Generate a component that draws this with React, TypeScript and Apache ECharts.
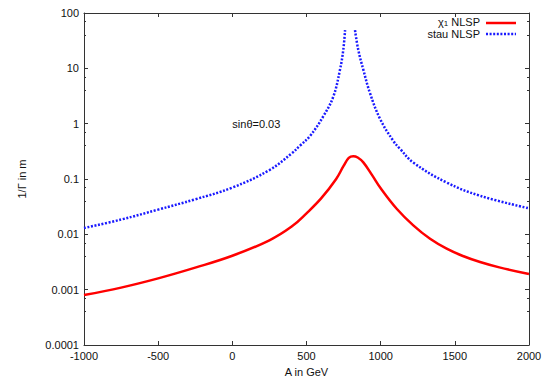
import React, { useEffect, useRef } from "react";
import * as echarts from "echarts";

// X values (A in GeV) and 1/Γ values (m)
const chiA = [-1000, -750, -500, -250, 0, 250, 400, 500, 600, 700, 750, 785, 815, 845, 883, 940, 1000, 1108, 1220, 1333, 1445, 1550, 1670, 1800, 2000];
const chiVal = [0.0008, 0.00109, 0.0016, 0.0025, 0.0041, 0.0078, 0.0138, 0.024, 0.045, 0.1, 0.172, 0.24, 0.258, 0.245, 0.2, 0.12, 0.068, 0.029, 0.0145, 0.0083, 0.0055, 0.0041, 0.00316, 0.00253, 0.00192];

const stauA = [-1000, -750, -500, -250, 0, 250, 400, 456, 524, 614, 681, 726, 748, 760, 793, 827, 849, 883, 928, 996, 1085, 1130, 1220, 1445, 1670, 2000];
const stauVal: (number | null)[] = [0.013, 0.0185, 0.028, 0.043, 0.07, 0.145, 0.29, 0.4, 0.6, 1.37, 3.1, 9.5, 21.6, 49, null, 49, 21.6, 9.46, 3.57, 1.22, 0.49, 0.352, 0.198, 0.0863, 0.0498, 0.0295];

const yTickLabels = ["0.0001", "0.001", "0.01", "0.1", "1", "10", "100"];
const xMin = -1000;
const xMax = 2000;
const xStep = 500;

const FONT = "'Liberation Sans', Arial, Helvetica, sans-serif";
const TXT = "#111";
const AX = "#333";

export default function App() {
  const ref = useRef<HTMLDivElement>(null);
  useEffect(() => {
    document.body.style.margin = "0";
    if (!ref.current) return;
    const chart = echarts.init(ref.current, undefined, { renderer: "svg" });
    const yFmt = (v: number) => {
      const l = Math.round(Math.log10(v));
      const idx = l + 4;
      return yTickLabels[idx] ?? String(v);
    };
    const axisLine = { show: true, onZero: false, lineStyle: { color: AX, width: 1 } };
    const tick = { show: true, inside: true, length: 4, lineStyle: { color: AX } };
    chart.setOption({
      animation: false,
      backgroundColor: "#fff",
      textStyle: { fontFamily: FONT },
      grid: { left: 84, right: 16, top: 13, bottom: 35, containLabel: false },
      xAxis: [
        {
          type: "value",
          min: xMin,
          max: xMax,
          interval: xStep,
          axisLine,
          splitLine: { show: false },
          axisTick: tick,
          axisLabel: { color: TXT, fontSize: 11, margin: 5, fontFamily: FONT, formatter: (v: number) => String(v) },
          name: "A in GeV",
          nameLocation: "middle",
          nameGap: 21,
          nameTextStyle: { color: TXT, fontSize: 11, fontFamily: FONT },
        },
        {
          type: "value",
          position: "top",
          min: xMin,
          max: xMax,
          interval: xStep,
          axisLine,
          splitLine: { show: false },
          axisTick: tick,
          axisLabel: { show: false },
        },
      ],
      yAxis: [
        {
          type: "log",
          logBase: 10,
          min: 0.0001,
          max: 100,
          interval: 1,
          axisLine,
          splitLine: { show: false },
          axisTick: tick,
          minorTick: { show: true, splitNumber: 3, length: 2, lineStyle: { color: AX } },
          axisLabel: { color: TXT, fontSize: 11, margin: 5, fontFamily: FONT, formatter: yFmt },
          name: "1/Γ in m",
          nameLocation: "middle",
          nameGap: 57,
          nameRotate: 90,
          nameTextStyle: { color: TXT, fontSize: 11, fontFamily: FONT },
        },
        {
          type: "log",
          logBase: 10,
          position: "right",
          min: 0.0001,
          max: 100,
          interval: 1,
          axisLine,
          splitLine: { show: false },
          axisTick: tick,
          minorTick: { show: true, splitNumber: 3, length: 2, lineStyle: { color: AX } },
          axisLabel: { show: false },
        },
      ],
      series: [
        {
          name: "χ1 NLSP",
          type: "line",
          xAxisIndex: 0,
          yAxisIndex: 0,
          data: chiA.map((a, i) => [a, chiVal[i]]),
          showSymbol: false,
          symbol: "none",
          smooth: 0.4,
          lineStyle: { color: "#ff0000", width: 2.5 },
          markPoint: {
            symbol: "circle",
            symbolSize: 0,
            data: [{ coord: [0, 1] }],
            label: {
              show: true,
              formatter: "sinθ=0.03",
              position: "right",
              distance: 0,
              color: TXT,
              fontSize: 11,
              fontFamily: FONT,
            },
          },
        },
        {
          name: "stau NLSP",
          type: "line",
          xAxisIndex: 0,
          yAxisIndex: 0,
          data: stauA.map((a, i) => [a, stauVal[i] == null ? "-" : stauVal[i]]),
          connectNulls: false,
          showSymbol: false,
          symbol: "none",
          smooth: 0.4,
          lineStyle: { color: "#1a1aff", width: 2.5, type: [2, 1.6], cap: "butt" },
        },
      ],
      graphic: [
        {
          type: "text",
          x: 480,
          y: 22,
          style: {
            text: "χ{s|1} NLSP",
            align: "right",
            verticalAlign: "middle",
            fill: TXT,
            font: `11px ${FONT}`,
            rich: { s: { fontSize: 8, fill: TXT, padding: [3, 0, 0, 0], fontFamily: FONT } },
          },
        },
        {
          type: "line",
          shape: { x1: 486, y1: 23, x2: 516, y2: 23 },
          style: { stroke: "#ff0000", lineWidth: 2.5 },
        },
        {
          type: "text",
          x: 480,
          y: 34,
          style: {
            text: "stau NLSP",
            align: "right",
            verticalAlign: "middle",
            fill: TXT,
            font: `11px ${FONT}`,
          },
        },
        {
          type: "line",
          shape: { x1: 486, y1: 34, x2: 516, y2: 34 },
          style: { stroke: "#1a1aff", lineWidth: 2.5, lineDash: [2, 1.6] },
        },
      ],
    });
    return () => chart.dispose();
  }, []);
  return <div ref={ref} style={{ width: 545, height: 382 }} />;
}
